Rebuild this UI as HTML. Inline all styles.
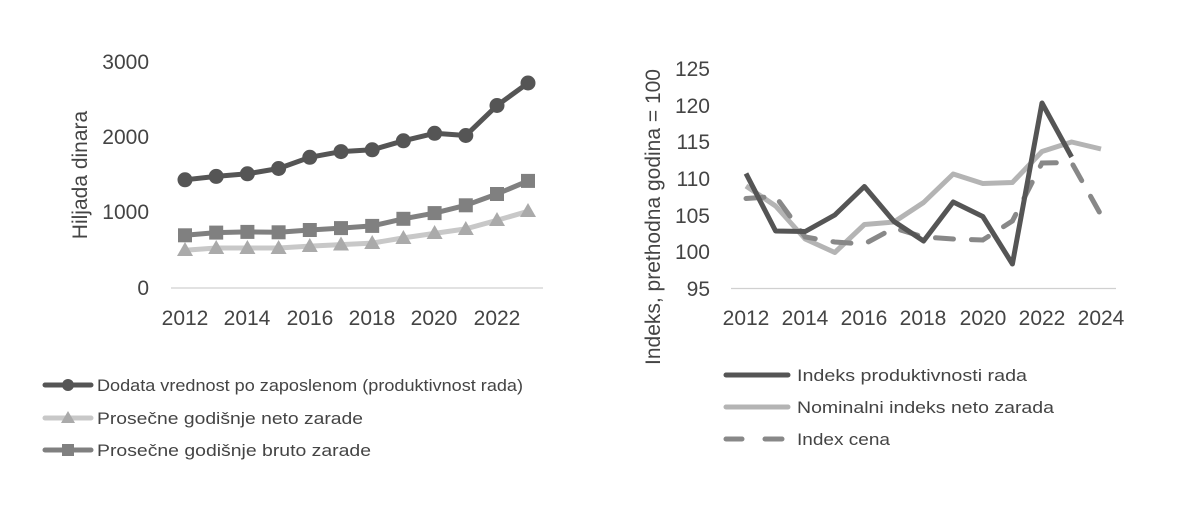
<!DOCTYPE html>
<html><head><meta charset="utf-8"><style>
body{margin:0;background:#fff;}
svg{display:block;font-family:"Liberation Sans",sans-serif;}
</style></head><body>
<svg width="1200" height="509" viewBox="0 0 1200 509" xmlns="http://www.w3.org/2000/svg">
<rect width="1200" height="509" fill="#fff"/>
<!-- LEFT CHART -->
<g fill="#444" font-size="21" text-anchor="end">
<text x="149" y="69">3000</text>
<text x="149" y="144">2000</text>
<text x="149" y="219">1000</text>
<text x="149" y="295">0</text>
</g>
<text transform="translate(87,175) rotate(-90)" text-anchor="middle" font-size="21" fill="#444">Hiljada dinara</text>
<line x1="171" y1="288" x2="543" y2="288" stroke="#d0d0d0" stroke-width="1.2"/>
<g fill="#444" font-size="21" text-anchor="middle">
<text x="185" y="325">2012</text><text x="247" y="325">2014</text><text x="310" y="325">2016</text>
<text x="372" y="325">2018</text><text x="434" y="325">2020</text><text x="497" y="325">2022</text>
</g>
<!-- neto -->
<polyline fill="none" stroke="#c8c8c8" stroke-width="5" stroke-linejoin="round" points="185,250.2 216.2,248 247.4,248 278.6,248 309.8,246.1 341,244.6 372.2,243.1 403.4,237.9 434.6,233.4 465.8,228.9 497,220.3 528,211.3"/>
<g fill="#aaa">
<polygon points="185,242 177,256 193,256"/><polygon points="216.2,240 208.2,254 224.2,254"/><polygon points="247.4,240 239.4,254 255.4,254"/><polygon points="278.6,240 270.6,254 286.6,254"/><polygon points="309.8,238 301.8,252 317.8,252"/><polygon points="341,236.5 333,250.5 349,250.5"/><polygon points="372.2,235 364.2,249 380.2,249"/><polygon points="403.4,230 395.4,244 411.4,244"/><polygon points="434.6,225 426.6,239 442.6,239"/><polygon points="465.8,221 457.8,235 473.8,235"/><polygon points="497,212 489,226 505,226"/><polygon points="528,203 520,217 536,217"/>
</g>
<!-- bruto -->
<polyline fill="none" stroke="#808080" stroke-width="5" stroke-linejoin="round" points="185,235.3 216.2,232.6 247.4,231.9 278.6,232.3 309.8,230 341,228.1 372.2,225.9 403.4,218.8 434.6,213.1 465.8,205.3 497,194 528,180.9"/>
<g fill="#808080">
<rect x="178" y="228.3" width="14" height="14"/><rect x="209.2" y="225.6" width="14" height="14"/><rect x="240.4" y="224.9" width="14" height="14"/><rect x="271.6" y="225.3" width="14" height="14"/><rect x="302.8" y="223" width="14" height="14"/><rect x="334" y="221.1" width="14" height="14"/><rect x="365.2" y="218.9" width="14" height="14"/><rect x="396.4" y="211.8" width="14" height="14"/><rect x="427.6" y="206.1" width="14" height="14"/><rect x="458.8" y="198.3" width="14" height="14"/><rect x="490" y="187" width="14" height="14"/><rect x="521" y="173.9" width="14" height="14"/>
</g>
<!-- dodata -->
<polyline fill="none" stroke="#555" stroke-width="5" stroke-linejoin="round" points="185,179.8 216.2,176.4 247.4,173.8 278.6,168.5 309.8,157.3 341,151.6 372.2,149.8 403.4,140.8 434.6,133.3 465.8,135.5 497,105.5 528,83"/>
<g fill="#555">
<circle cx="185" cy="179.8" r="7.5"/><circle cx="216.2" cy="176.4" r="7.5"/><circle cx="247.4" cy="173.8" r="7.5"/><circle cx="278.6" cy="168.5" r="7.5"/><circle cx="309.8" cy="157.3" r="7.5"/><circle cx="341" cy="151.6" r="7.5"/><circle cx="372.2" cy="149.8" r="7.5"/><circle cx="403.4" cy="140.8" r="7.5"/><circle cx="434.6" cy="133.3" r="7.5"/><circle cx="465.8" cy="135.5" r="7.5"/><circle cx="497" cy="105.5" r="7.5"/><circle cx="528" cy="83" r="7.5"/>
</g>
<!-- left legend -->
<g font-size="16.5" fill="#444">
<line x1="45" y1="385" x2="91" y2="385" stroke="#555" stroke-width="5" stroke-linecap="round"/><circle cx="68" cy="385" r="6" fill="#555"/>
<text x="97" y="391" textLength="426" lengthAdjust="spacingAndGlyphs">Dodata vrednost po zaposlenom (produktivnost rada)</text>
<line x1="45" y1="418" x2="91" y2="418" stroke="#c8c8c8" stroke-width="5" stroke-linecap="round"/><polygon points="68,411 61,423 75,423" fill="#aaa"/>
<text x="97" y="424" textLength="266" lengthAdjust="spacingAndGlyphs">Prosečne godišnje neto zarade</text>
<line x1="45" y1="450" x2="91" y2="450" stroke="#808080" stroke-width="5" stroke-linecap="round"/><rect x="62" y="444" width="12" height="12" fill="#808080"/>
<text x="97" y="456" textLength="274" lengthAdjust="spacingAndGlyphs">Prosečne godišnje bruto zarade</text>
</g>
<!-- RIGHT CHART -->
<g fill="#444" font-size="21" text-anchor="end">
<text x="710" y="76">125</text><text x="710" y="113">120</text><text x="710" y="149">115</text>
<text x="710" y="186">110</text><text x="710" y="223">105</text><text x="710" y="259">100</text><text x="710" y="296">95</text>
</g>
<text transform="translate(660,217) rotate(-90)" text-anchor="middle" font-size="21" fill="#444">Indeks, prethodna godina = 100</text>
<line x1="731" y1="288.5" x2="1116" y2="288.5" stroke="#d0d0d0" stroke-width="1.2"/>
<g fill="#444" font-size="21" text-anchor="middle">
<text x="746" y="325">2012</text><text x="805" y="325">2014</text><text x="864" y="325">2016</text>
<text x="923" y="325">2018</text><text x="983" y="325">2020</text><text x="1042" y="325">2022</text><text x="1101" y="325">2024</text>
</g>
<polyline fill="none" stroke="#b4b4b4" stroke-width="5" stroke-linejoin="round" points="746,186 775.6,206 805.2,239 834.8,252.5 864.4,224.5 894,222 923.6,202.5 953.2,174 982.8,183.5 1012.4,182.5 1042,151.5 1071.6,142 1101,149"/>
<polyline fill="none" stroke="#888" stroke-width="5" stroke-linecap="round" stroke-dasharray="18,18" points="746,198.5 775.6,196.5 805.2,237 834.8,242 864.4,244 894,228 923.6,237 953.2,239 982.8,240 1012.4,221 1042,163 1071.6,162.5 1101,215"/>
<polyline fill="none" stroke="#555" stroke-width="5" stroke-linejoin="round" points="746,173.5 775.6,231 805.2,231.5 834.8,215 864.4,186.5 894,221.5 923.6,241 953.2,202 982.8,216.5 1012.4,264 1042,103 1071.6,157"/>
<!-- right legend -->
<g font-size="16.5" fill="#444">
<line x1="726" y1="375" x2="788" y2="375" stroke="#555" stroke-width="5" stroke-linecap="round"/>
<text x="797" y="381" textLength="230" lengthAdjust="spacingAndGlyphs">Indeks produktivnosti rada</text>
<line x1="726" y1="407" x2="788" y2="407" stroke="#b4b4b4" stroke-width="5" stroke-linecap="round"/>
<text x="797" y="413" textLength="257" lengthAdjust="spacingAndGlyphs">Nominalni indeks neto zarada</text>
<line x1="726" y1="439" x2="742" y2="439" stroke="#888" stroke-width="5" stroke-linecap="round"/>
<line x1="765" y1="439" x2="782" y2="439" stroke="#888" stroke-width="5" stroke-linecap="round"/>
<text x="797" y="445" textLength="93" lengthAdjust="spacingAndGlyphs">Index cena</text>
</g>
</svg>
</body></html>
